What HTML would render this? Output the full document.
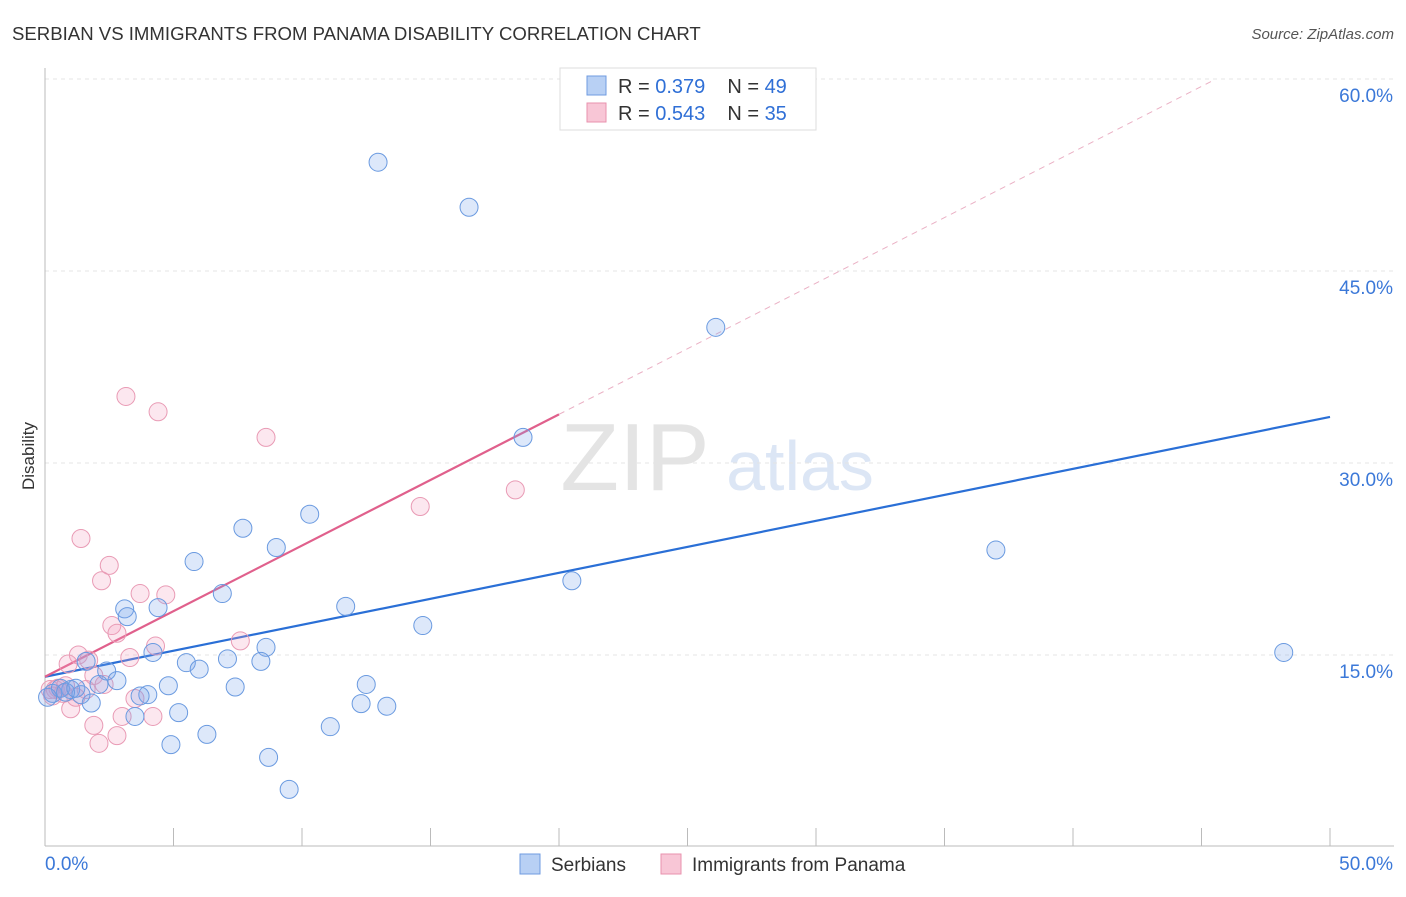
<!DOCTYPE html>
<html><head><meta charset="utf-8"><style>
body{margin:0;background:#fff;font-family:"Liberation Sans",sans-serif}
svg text{font-family:"Liberation Sans",sans-serif}
</style></head><body>
<svg id="chart" width="1406" height="892" viewBox="0 0 1406 892" xmlns="http://www.w3.org/2000/svg">
<text x="12" y="40" font-size="18.6" fill="#333">SERBIAN VS IMMIGRANTS FROM PANAMA DISABILITY CORRELATION CHART</text>
<text x="1394" y="39" font-size="15" fill="#555" text-anchor="end" font-style="italic">Source: ZipAtlas.com</text>
<text x="34" y="456" font-size="17" fill="#333" text-anchor="middle" transform="rotate(-90 34 456)">Disability</text>
<g><text x="635" y="490" font-size="96" fill="#e4e4e4" font-family="Liberation Serif" text-anchor="middle">ZIP</text><text x="800" y="490" font-size="70" fill="#dce6f5" text-anchor="middle">atlas</text></g>
<g id="grid"></g><g id="axes"></g><g id="lines"></g><g id="pts"></g>
<g>
<rect x="560" y="68" width="256" height="62" fill="#fff" stroke="#ddd"/>
<rect x="587" y="76" width="19" height="19" fill="#b8d0f4" stroke="#6f9be0"/>
<rect x="587" y="103" width="19" height="19" fill="#f8c6d6" stroke="#e892ae"/>
<text x="618" y="93" font-size="20" fill="#333">R = <tspan fill="#2f6fd6">0.379</tspan><tspan dx="22">N = </tspan><tspan fill="#2f6fd6">49</tspan></text>
<text x="618" y="120" font-size="20" fill="#333">R = <tspan fill="#2f6fd6">0.543</tspan><tspan dx="22">N = </tspan><tspan fill="#2f6fd6">35</tspan></text>
</g>
<g>
<rect x="520" y="854" width="20" height="20" fill="#b8d0f4" stroke="#6f9be0"/>
<text x="551" y="871" font-size="19" fill="#333">Serbians</text>
<rect x="661" y="854" width="20" height="20" fill="#f8c6d6" stroke="#e892ae"/>
<text x="692" y="871" font-size="19" fill="#333">Immigrants from Panama</text>
</g>
</svg>
<script>
const yTicks=[15,30,45,60];
const yTickLabels=["15.0%","30.0%","45.0%","60.0%"];
const xTickLabels=["0.0%","50.0%"];
const blueX=[12.96,16.5,26.1,18.6,37.0,48.2,20.5,10.3,7.7,9.0,5.8,6.9,11.7,14.7,3.1,4.4,3.2,8.6,4.2,5.5,6.0,7.1,8.4,1.6,2.4,2.8,4.8,7.4,4.0,3.7,12.5,12.3,13.3,5.2,3.5,6.3,4.9,11.1,8.7,9.5,1.8,1.0,0.3,0.6,1.4,0.1,2.1,0.8,1.2];
const blueY=[53.5,49.98,40.6,32.0,23.2,15.2,20.8,26.0,24.9,23.4,22.3,19.8,18.8,17.3,18.6,18.7,18.0,15.6,15.2,14.4,13.9,14.7,14.5,14.5,13.75,13.0,12.6,12.5,11.9,11.8,12.7,11.2,11.0,10.5,10.2,8.8,8.0,9.4,7.0,4.5,11.25,12.3,12.0,12.4,11.9,11.7,12.7,12.1,12.4];
const pinkX=[3.15,4.4,8.6,14.6,18.3,1.4,2.5,2.2,3.7,4.7,2.6,2.8,4.3,7.6,1.3,1.7,0.9,3.3,1.9,2.3,3.5,3.0,4.2,1.9,2.8,2.1,1.0,0.4,0.7,0.2,0.5,1.2,1.6,0.8,0.3];
const pinkY=[35.2,34.0,32.0,26.6,27.9,24.1,22.0,20.8,19.8,19.7,17.3,16.7,15.7,16.1,15.0,14.6,14.3,14.8,13.4,12.7,11.6,10.2,10.2,9.5,8.7,8.1,10.8,12.3,12.0,12.3,12.4,11.7,12.3,12.6,11.8];
const blueTrend=[13.3,33.6];   // y at x=0 and x=50
const pinkTrend=[13.3,1.025];  // intercept, slope
const NS="http://www.w3.org/2000/svg";
const X=v=>45+v*1285/50, Y=v=>655-(v-15)*12.8;
function mk(t,a,p){const e=document.createElementNS(NS,t);for(const k in a)e.setAttribute(k,a[k]);document.getElementById(p).appendChild(e);return e;}
yTicks.forEach((t,i)=>{
 const g=mk('line',{x1:45,x2:1394,y1:Y(t),y2:Y(t),stroke:'#e4e4e4','stroke-dasharray':'4,4'},'grid');
 
 
 const l=mk('text',{x:1393,y:Y(t)+23,'font-size':19,fill:'#3b78d8','text-anchor':'end'},'grid');l.textContent=yTickLabels[i];
 
 
});
mk('line',{x1:45,x2:45,y1:68,y2:846,stroke:'#bbb'},'axes');
mk('line',{x1:45,x2:1394,y1:846,y2:846,stroke:'#bbb'},'axes');
for(let i=0;i<=10;i++){const t=mk('line',{x1:X(i*5),x2:X(i*5),y1:828,y2:846,stroke:'#bbb'},'axes');
 
 }
const xl0=mk('text',{x:45,y:870,'font-size':19,fill:'#3b78d8'},'axes');xl0.textContent=xTickLabels[0];


const xl1=mk('text',{x:1393,y:870,'font-size':19,fill:'#3b78d8','text-anchor':'end'},'axes');xl1.textContent=xTickLabels[1];


function pt(x,y,f,s,n){const c=mk('circle',{cx:X(x),cy:Y(y),r:9,fill:f,stroke:s,'stroke-width':1},'pts');
 
 }
pinkX.forEach((x,i)=>pt(x,pinkY[i],'rgba(244,160,190,0.25)','#e99bb5','panama-point'));
blueX.forEach((x,i)=>pt(x,blueY[i],'rgba(120,165,235,0.25)','#6a9ae0','serbian-point'));
const bl=mk('line',{x1:X(0),y1:Y(blueTrend[0]),x2:X(50),y2:Y(blueTrend[1]),stroke:'#2a6fd6','stroke-width':2.2},'lines');


const pEnd=20, pDash=45.5;
const pl=mk('line',{x1:X(0),y1:Y(pinkTrend[0]),x2:X(pEnd),y2:Y(pinkTrend[0]+pinkTrend[1]*pEnd),stroke:'#e0608c','stroke-width':2.2},'lines');


const pd=mk('line',{x1:X(pEnd),y1:Y(pinkTrend[0]+pinkTrend[1]*pEnd),x2:X(pDash),y2:Y(pinkTrend[0]+pinkTrend[1]*pDash),stroke:'#eab0c4','stroke-width':1,'stroke-dasharray':'6,5'},'lines');


</script>
</body></html>
